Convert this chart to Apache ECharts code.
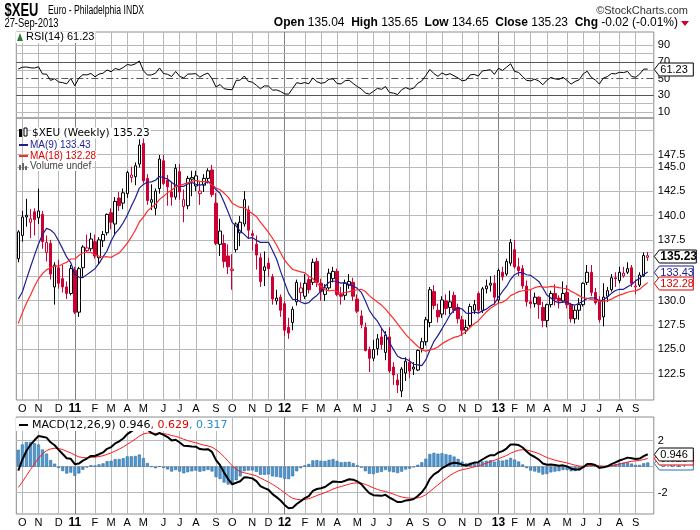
<!DOCTYPE html>
<html>
<head>
<meta charset="utf-8">
<title>$XEU Weekly</title>
<script src="https://cdn.jsdelivr.net/npm/echarts@6/dist/echarts.min.js"></script>
<style>
  html, body { margin: 0; padding: 0; background: #fff; }
  #chart { width: 700px; height: 530px; }
</style>
</head>
<body>
<div id="chart"></div>
<script>
// weekly bars, first week starts Mon 27-Sep-2010
const opens = [
  134.9, 137.5, 139.6, 139.0, 140.2, 139.5, 139.9, 135.6, 136.6, 131.8,
  133.9, 132.7, 131.8, 131.1, 133.6, 129.1, 133.9, 135.8, 136.0, 136.8,
  135.0, 136.9, 137.8, 140.1, 138.8, 141.8, 141.2, 142.3, 144.2, 144.3,
  145.8, 148.3, 144.1, 141.3, 140.6, 142.9, 146.2, 143.9, 142.5, 141.9,
  144.9, 140.8, 140.9, 144.0, 143.2, 142.3, 143.3, 144.1, 145.1, 141.2,
  136.5, 136.6, 135.2, 133.6, 135.9, 137.8, 138.8, 140.4, 137.7, 136.5,
  135.0, 133.6, 134.4, 132.9, 130.3, 130.7, 130.0, 127.5, 128.0, 130.2,
  131.2, 130.8, 132.6, 132.3, 134.6, 132.2, 131.0, 131.7, 132.7, 133.5,
  131.0, 130.9, 132.0, 132.3, 130.5, 128.7, 127.5, 125.2, 124.3, 125.3,
  126.5, 124.9, 126.5, 123.4, 122.1, 121.0, 122.8, 123.9, 123.2, 123.1,
  125.3, 126.0, 128.0, 131.3, 129.3, 128.9, 130.3, 129.6, 130.9, 129.6,
  128.3, 127.2, 127.7, 129.3, 131.1, 129.3, 131.6, 132.0, 132.2, 130.4,
  133.4, 133.2, 134.4, 135.9, 134.0, 133.8, 131.9, 130.2, 130.0, 130.7,
  129.6, 128.2, 129.9, 131.1, 130.6, 130.3, 131.2, 129.9, 128.4, 129.3,
  129.9, 132.3, 133.4, 131.2, 130.4, 128.6, 130.8, 131.5, 132.8, 132.5,
  133.0, 133.4, 133.9, 131.8, 132.0, 133.0, 135.04
];
const highs = [
  138.1, 140.3, 141.7, 140.5, 140.6, 142.9, 140.3, 137.5, 137.0, 134.5,
  134.8, 134.2, 132.4, 134.2, 134.0, 134.0, 136.4, 137.6, 137.8, 137.6,
  137.3, 138.0, 140.0, 140.6, 141.9, 142.5, 142.9, 145.0, 145.5, 146.0,
  148.8, 149.4, 144.6, 143.4, 142.9, 146.9, 146.9, 144.5, 143.7, 145.8,
  145.8, 142.8, 144.4, 145.0, 145.0, 143.7, 144.6, 145.3, 145.7, 142.4,
  139.4, 137.6, 136.5, 135.4, 139.0, 139.7, 142.6, 140.9, 138.1, 137.5,
  135.5, 135.7, 135.0, 133.2, 131.5, 131.0, 130.3, 128.5, 129.7, 132.6,
  132.3, 133.2, 132.9, 134.9, 135.0, 132.7, 132.1, 133.8, 134.0, 133.8,
  131.8, 132.6, 133.2, 132.8, 131.0, 129.3, 128.0, 125.5, 126.2, 126.8,
  127.4, 127.1, 127.5, 123.9, 122.7, 123.4, 124.4, 124.3, 123.9, 125.2,
  126.4, 128.6, 131.8, 132.0, 130.0, 130.8, 131.0, 131.4, 131.3, 130.0,
  128.7, 128.3, 130.0, 130.4, 131.3, 131.8, 132.6, 133.0, 133.1, 133.8,
  134.0, 134.9, 137.1, 137.0, 135.0, 134.2, 132.5, 131.5, 131.2, 130.8,
  130.2, 130.0, 131.4, 132.1, 130.9, 132.4, 132.0, 130.1, 129.8, 130.6,
  132.3, 134.2, 134.2, 131.7, 130.8, 132.2, 131.8, 133.2, 133.4, 134.0,
  134.0, 134.5, 134.2, 132.6, 133.4, 135.6, 135.65
];
const lows = [
  134.5, 136.8, 138.5, 137.2, 137.5, 138.8, 136.0, 134.6, 132.6, 129.9,
  131.6, 131.2, 130.5, 130.9, 128.9, 128.6, 132.9, 135.6, 135.7, 134.9,
  134.3, 136.2, 137.5, 138.2, 137.6, 140.3, 140.5, 141.8, 143.6, 143.3,
  145.4, 143.5, 141.0, 140.4, 139.8, 142.3, 143.3, 140.9, 140.9, 141.6,
  141.6, 139.0, 140.5, 142.0, 142.6, 141.0, 142.5, 143.5, 141.9, 136.4,
  135.2, 133.9, 133.2, 131.5, 135.6, 136.3, 138.5, 137.2, 135.8, 133.7,
  131.8, 131.9, 132.9, 129.9, 129.9, 128.6, 126.6, 126.3, 127.2, 129.8,
  130.3, 130.5, 131.1, 132.0, 131.8, 130.3, 130.3, 131.5, 132.3, 130.8,
  129.9, 130.4, 131.6, 130.3, 129.0, 127.4, 125.0, 122.9, 124.0, 124.6,
  125.2, 124.1, 122.8, 121.6, 120.8, 120.4, 122.0, 122.3, 122.6, 123.0,
  124.9, 125.6, 127.5, 129.4, 128.0, 128.5, 128.8, 128.9, 129.0, 127.9,
  126.6, 126.8, 127.5, 128.9, 129.0, 129.0, 131.1, 131.3, 129.9, 130.0,
  132.5, 133.0, 134.1, 133.8, 133.0, 131.6, 129.7, 129.5, 129.6, 128.4,
  127.5, 127.5, 129.6, 129.8, 129.5, 130.1, 129.5, 128.0, 127.9, 128.3,
  129.7, 132.0, 130.8, 129.9, 128.0, 127.6, 130.2, 131.3, 131.8, 132.2,
  132.8, 133.2, 131.8, 131.0, 131.8, 132.9, 134.65
];
const closes = [
  137.9, 139.6, 139.8, 139.4, 139.3, 140.3, 136.8, 136.7, 133.2, 134.2,
  132.2, 131.8, 131.1, 133.8, 129.1, 133.8, 136.2, 136.1, 137.1, 135.2,
  137.0, 137.6, 139.9, 139.0, 141.4, 140.9, 142.4, 144.8, 144.5, 145.6,
  148.1, 143.8, 141.5, 141.6, 142.6, 146.4, 143.5, 143.1, 141.9, 145.3,
  142.5, 141.6, 144.1, 144.2, 144.4, 142.6, 144.1, 145.0, 142.2, 136.6,
  138.0, 134.6, 134.0, 133.75, 138.8, 139.0, 141.6, 138.1, 137.5, 135.3,
  132.4, 134.0, 133.8, 130.5, 130.6, 129.3, 127.2, 126.9, 129.4, 132.3,
  131.7, 132.2, 131.5, 134.5, 132.3, 131.3, 131.7, 133.3, 133.5, 131.0,
  130.8, 132.2, 132.4, 130.8, 129.2, 127.8, 125.1, 124.3, 125.2, 126.3,
  125.7, 126.7, 123.0, 122.6, 121.6, 123.2, 124.0, 123.0, 123.4, 125.1,
  126.0, 128.3, 131.5, 129.8, 128.6, 130.4, 129.5, 130.2, 129.3, 128.4,
  127.2, 127.5, 129.7, 129.9, 129.3, 131.6, 131.9, 132.2, 130.7, 133.6,
  132.9, 134.6, 136.7, 134.0, 133.6, 131.9, 130.2, 130.0, 130.7, 129.9,
  128.2, 129.9, 131.1, 130.5, 130.3, 131.1, 129.9, 128.4, 129.3, 129.9,
  132.2, 133.4, 131.2, 130.1, 128.3, 130.7, 131.4, 132.8, 132.7, 133.4,
  133.3, 133.8, 132.2, 131.9, 133.1, 135.25, 135.23
];
// weekly closes before the first bar (Mar-Sep 2010), only used to warm up the MAs and RSI
const priorCloses = [
  136.2, 137.6, 135.5, 133.9, 135.0, 135.5, 134.8, 134.5, 133.0, 127.6,
  123.8, 125.8, 124.3, 119.7, 121.2, 123.9, 122.6, 125.2, 126.4, 129.4,
  129.1, 130.5, 132.8, 127.5, 127.4, 127.5, 128.9, 127.1, 130.5, 134.9
];
// MACD state on the bar before the first one
const ema12Seed = 127.8, ema26Seed = 129.0, signalSeed = -1.925;

const priceTicks = [122.5, 125, 127.5, 130, 132.5, 135, 137.5, 140, 142.5, 145, 147.5, 150];
const priceLabelHidden = [132.5, 135, 150];   // covered by the value tags / top edge
const rsiTicks = [10, 20, 30, 40, 50, 60, 70, 80, 90];
const rsiLabels = [10, 30, 50, 70, 90];
const macdTicks = [-2, 0, 2];
const macdLabels = [-2, 2];
const monthLetters = ['J', 'F', 'M', 'A', 'M', 'J', 'J', 'A', 'S', 'O', 'N', 'D'];

const RED = '#cc0033';
const BLUE = '#1c1c96';
const MARED = '#ff2a2a';
const FONT = 'Liberation Sans, Arial, sans-serif';
const DV = 'DejaVu Sans, Verdana, sans-serif';
const GRID_C = '#b8b8b8';
const YEAR_C = '#808080';
const L = Math.log;

// week dates, plus one empty slot at the right edge
const cats = [];
let t = Date.UTC(2010, 8, 27);
for (let i = 0; i < closes.length; i++) {
  cats.push(new Date(t).toISOString().slice(0, 10));
  t += 7 * 864e5;
}
cats.push('');
const monthStart = cats.map((c, i) => i > 0 && c !== '' && c.slice(5, 7) !== cats[i - 1].slice(5, 7));
function monthText(c) {
  const m = +c.slice(5, 7) - 1;
  return m === 0 ? '{y|' + c.slice(2, 4) + '}' : monthLetters[m];
}

// indicators
const all = priorCloses.concat(closes);
const lead = priorCloses.length;
function sma(n) {
  return all.map((_, i) => {
    if (i < n - 1) return null;
    let s = 0;
    for (let k = i - n + 1; k <= i; k++) s += all[k];
    return s / n;
  }).slice(lead);
}
function ema(arr, n, seed) {
  const a = 2 / (n + 1), out = [];
  let prev = seed;
  arr.forEach(v => { prev = prev + a * (v - prev); out.push(prev); });
  return out;
}
function rsi(n) {
  const out = [null];
  let ag = 0, al = 0;
  for (let i = 1; i < all.length; i++) {
    const d = all[i] - all[i - 1];
    const g = Math.max(d, 0), l = Math.max(-d, 0);
    if (i <= n) { ag += g / n; al += l / n; }
    else { ag = (ag * (n - 1) + g) / n; al = (al * (n - 1) + l) / n; }
    out.push(i < n ? null : 100 - 100 / (1 + ag / al));
  }
  return out.slice(lead);
}
const ma9 = sma(9), ma18 = sma(18);
const e12 = ema(closes, 12, ema12Seed), e26 = ema(closes, 26, ema26Seed);
const macd = e12.map((v, i) => v - e26[i]);
const signal = ema(macd, 9, signalSeed);
const hist = macd.map((v, i) => v - signal[i]);
const rsi14 = rsi(14);

const candles = closes.map((c, i) => {
  const prev = i === 0 ? priorCloses[lead - 1] : closes[i - 1];
  const col = c < prev ? RED : '#000';
  const fill = c > opens[i] ? '#fff' : col;
  return {
    value: [L(opens[i]), L(c), L(lows[i]), L(highs[i])],
    itemStyle: { color: fill, color0: fill, borderColor: col, borderColor0: col }
  };
});

// grids: RSI, price, MACD
const GL = 16.3, GW = 637.5;
const grids = [
  { left: GL, top: 32, width: GW, height: 86 },
  { left: GL, top: 118, width: GW, height: 282 },
  { left: GL, top: 417, width: GW, height: 97 }
].map(g => Object.assign(g, { show: true, borderColor: '#8c8c8c', borderWidth: 1, containLabel: false }));

function xAxis(gi, showLabels) {
  return {
    type: 'category', gridIndex: gi, data: cats, boundaryGap: true,
    axisLine: { show: false }, axisTick: { show: false }, splitLine: { show: false },
    axisLabel: {
      show: showLabels, interval: (idx) => monthStart[idx], margin: 3,
      formatter: (v) => monthText(v), color: '#000', fontSize: 11, fontFamily: FONT,
      rich: { y: { fontWeight: 'bold', fontSize: 12, fontFamily: FONT } }
    }
  };
}
const yBase = { type: 'value', axisLine: { show: false }, axisTick: { show: false }, axisLabel: { show: false }, splitLine: { show: false } };

const vLines = [];
cats.forEach((c, i) => {
  if (monthStart[i]) {
    vLines.push({ xAxis: i, lineStyle: { color: c.slice(5, 7) === '01' ? YEAR_C : GRID_C, width: 1, type: 'solid' } });
  }
});

function labelStyle(extra) {
  return Object.assign({ show: true, position: 'end', distance: 4, color: '#000', fontSize: 11, fontFamily: FONT }, extra);
}
function gridSeries(xi, yi, hData) {
  return {
    type: 'line', xAxisIndex: xi, yAxisIndex: yi, data: [], silent: true, z: 0,
    markLine: {
      silent: true, symbol: 'none', z: 0, animation: false,
      label: { show: false }, emphasis: { disabled: true },
      data: vLines.concat(hData)
    }
  };
}

const priceH = priceTicks.map(p => ({
  yAxis: L(p), lineStyle: { color: GRID_C, width: 1, type: 'solid' },
  label: priceLabelHidden.includes(p) ? { show: false } : labelStyle({ formatter: p.toFixed(1) })
}));
const rsiH = rsiTicks.map(v => ({
  yAxis: v,
  lineStyle: v === 30 || v === 70 ? { color: '#555', width: 1, type: 'solid' }
    : v === 50 ? { color: '#555', width: 1, type: [7, 3, 2, 3] } : { color: GRID_C, width: 1, type: 'solid' },
  label: rsiLabels.includes(v) ? labelStyle({ formatter: String(v) }) : { show: false }
}));
const macdH = macdTicks.map(v => ({
  yAxis: v, lineStyle: { color: GRID_C, width: 1, type: 'solid' },
  label: macdLabels.includes(v) ? labelStyle({ formatter: String(v) }) : { show: false }
}));

function txt(x, y, text, font, fill, extra) {
  return Object.assign({
    type: 'text', x: x, y: y, z: 100,
    style: { text: text, font: font, fill: fill, textVerticalAlign: 'middle', backgroundColor: '#fff', padding: [0, 1] }
  }, extra || {});
}

const option = {
  animation: false,
  backgroundColor: '#fff',
  grid: grids,
  xAxis: [xAxis(0, false), xAxis(1, true), xAxis(2, true)],
  yAxis: [
    Object.assign({ gridIndex: 0, min: 2.9, max: 105.6 }, yBase),
    Object.assign({ gridIndex: 1, min: L(120.11), max: L(151.43) }, yBase),
    Object.assign({ gridIndex: 2, min: -3.64, max: 3.82 }, yBase)
  ],
  series: [
    gridSeries(0, 0, rsiH),
    gridSeries(1, 1, priceH),
    gridSeries(2, 2, macdH),
    {
      type: 'line', xAxisIndex: 0, yAxisIndex: 0, data: rsi14, showSymbol: false, z: 3,
      lineStyle: { color: '#000', width: 1 }, silent: true
    },
    {
      type: 'candlestick', xAxisIndex: 1, yAxisIndex: 1, data: candles, barWidth: 3, z: 3, silent: true,
      itemStyle: { borderWidth: 1 }
    },
    {
      type: 'line', xAxisIndex: 1, yAxisIndex: 1, data: ma9.map(v => v == null ? null : L(v)), showSymbol: false, z: 4,
      lineStyle: { color: BLUE, width: 1.2 }, silent: true
    },
    {
      type: 'line', xAxisIndex: 1, yAxisIndex: 1, data: ma18.map(v => v == null ? null : L(v)), showSymbol: false, z: 4,
      lineStyle: { color: MARED, width: 1.2 }, silent: true
    },
    {
      type: 'bar', xAxisIndex: 2, yAxisIndex: 2, data: hist, barWidth: 3, z: 2, silent: true,
      itemStyle: { color: '#4a98d0', borderColor: '#2a6098', borderWidth: 0.5 }
    },
    {
      type: 'line', xAxisIndex: 2, yAxisIndex: 2, data: signal, showSymbol: false, z: 3,
      lineStyle: { color: '#ff1a1a', width: 1 }, silent: true
    },
    {
      type: 'line', xAxisIndex: 2, yAxisIndex: 2, data: macd, showSymbol: false, z: 4,
      lineStyle: { color: '#000', width: 2 }, silent: true
    }
  ]
};

const graphics = [
  txt(3, 11, '$XEU', 'bold 18px ' + FONT, '#000', { scaleX: 0.72, originX: 3 }),
  txt(37, 11, 'Euro - Philadelphia INDX', '12px ' + FONT, '#000', { scaleX: 0.72, originX: 37 }),
  txt(3, 24, '27-Sep-2013', '12px ' + FONT, '#000', { scaleX: 0.78, originX: 3 }),
  { type: 'text', x: 688, y: 11, style: { text: '\u00a9StockCharts.com', font: '11px ' + FONT, fill: '#333', textAlign: 'right', textVerticalAlign: 'middle' } },
  {
    type: 'text', x: 678, y: 23,
    style: {
      text: '{b|Open} 135.04  {b|High} 135.65  {b|Low} 134.65  {b|Close} 135.23  {b|Chg} -0.02 (-0.01%)',
      font: '12px ' + FONT, fill: '#000', textAlign: 'right', textVerticalAlign: 'middle',
      rich: { b: { font: 'bold 12px ' + FONT, fill: '#000' } }
    }
  },
  { type: 'polygon', shape: { points: [[681, 21], [689, 21], [685, 26]] }, style: { fill: RED } },
  // RSI legend
  { type: 'rect', z: 100, shape: { x: 16, y: 32, width: 78, height: 11 }, style: { fill: '#fff' } },
  { type: 'polygon', z: 101, shape: { points: [[17, 41], [20, 33], [23, 41]] }, style: { fill: '#2e7d32' } },
  txt(25, 37, 'RSI(14) 61.23', '11px ' + FONT, '#000', { z: 101 }),
  // price legend
  { type: 'rect', z: 101, shape: { x: 19, y: 129, width: 3, height: 8 }, style: { fill: '#000' } },
  { type: 'rect', z: 101, shape: { x: 24, y: 128, width: 3, height: 8 }, style: { fill: '#fff', stroke: '#000', lineWidth: 1 } },
  txt(31, 133, '$XEU (Weekly) 135.23', '10.5px ' + DV, '#000', { z: 101 }),
  { type: 'rect', z: 101, shape: { x: 19, y: 144, width: 9, height: 2 }, style: { fill: BLUE } },
  txt(29, 145, 'MA(9) 133.43', '10px ' + FONT, BLUE, { z: 101 }),
  { type: 'rect', z: 101, shape: { x: 19, y: 155, width: 9, height: 2 }, style: { fill: MARED } },
  txt(29, 156, 'MA(18) 132.28', '10px ' + FONT, '#e00000', { z: 101 }),
  { type: 'rect', z: 101, shape: { x: 19, y: 165, width: 2, height: 5 }, style: { fill: '#666' } },
  { type: 'rect', z: 101, shape: { x: 22, y: 163, width: 2, height: 7 }, style: { fill: '#666' } },
  { type: 'rect', z: 101, shape: { x: 25, y: 166, width: 2, height: 4 }, style: { fill: '#666' } },
  txt(29, 166, 'Volume undef', '10px ' + FONT, '#444', { z: 101 }),
  // MACD legend
  { type: 'rect', z: 100, shape: { x: 16, y: 418, width: 216, height: 13 }, style: { fill: '#fff' } },
  { type: 'rect', z: 101, shape: { x: 19, y: 424, width: 9, height: 2 }, style: { fill: '#000' } },
  {
    type: 'text', x: 32, y: 425, z: 101,
    style: {
      text: 'MACD(12,26,9) 0.946{r|, 0.629}{b|, 0.317}', font: '11px ' + DV, fill: '#000', textVerticalAlign: 'middle',
      rich: { r: { fill: '#e00000', font: '11px ' + DV }, b: { fill: '#2a8ad0', font: '11px ' + DV } }
    }
  }
];

// last-value tags on the right edge, in drawing order (later ones on top)
const tags = [
  { axis: 0, value: 61.23, text: '61.23', color: '#000', bold: false },
  { axis: 1, value: L(133.43), text: '133.43', color: BLUE, bold: false },
  { axis: 1, value: L(132.28), text: '132.28', color: '#e00000', bold: false },
  { axis: 1, value: L(135.23), text: '135.23', color: '#000', bold: true },
  { axis: 2, value: 0.317, text: '0.317', color: '#2a6fb0', bold: false },
  { axis: 2, value: 0.629, text: '0.629', color: '#e00000', bold: false },
  { axis: 2, value: 0.946, text: '0.946', color: '#000', bold: false }
];

const chart = echarts.init(document.getElementById('chart'), null, { renderer: 'canvas' });
chart.setOption(option);

const x0 = GL + GW + 0.5;
tags.forEach((tg, k) => {
  const y = Math.round(chart.convertToPixel({ yAxisIndex: tg.axis }, tg.value)) + 0.5;
  const w = tg.bold ? 42 : 39;
  graphics.push({
    type: 'polygon', z: 110 + 2 * k,
    shape: { points: [[x0, y], [x0 + 5, y - 6.5], [x0 + w, y - 6.5], [x0 + w, y + 6.5], [x0 + 5, y + 6.5]] },
    style: { fill: '#fff', stroke: tg.color, lineWidth: 1 }
  });
  graphics.push({
    type: 'text', z: 111 + 2 * k, x: x0 + 6, y: y,
    style: { text: tg.text, font: (tg.bold ? 'bold 12px ' : '11px ') + FONT, fill: tg.color, textVerticalAlign: 'middle' }
  });
});
chart.setOption({ graphic: graphics });
</script>
</body>
</html>
